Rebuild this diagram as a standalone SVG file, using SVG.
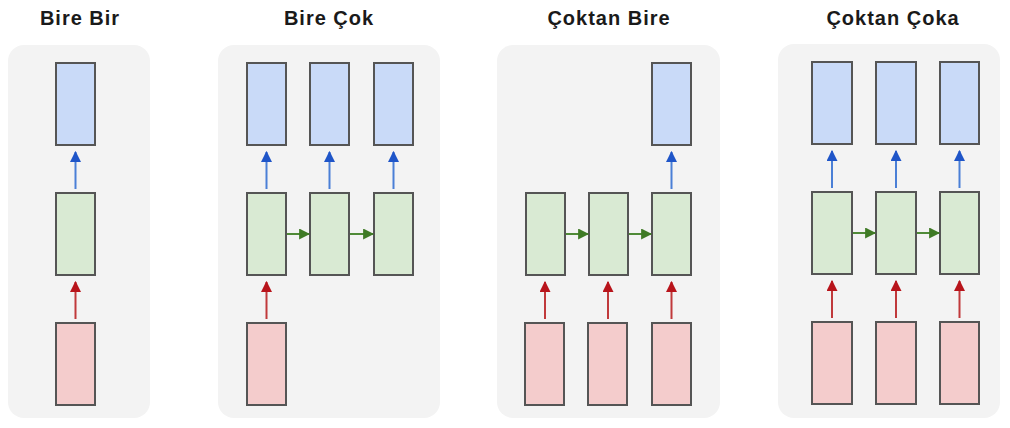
<svg xmlns="http://www.w3.org/2000/svg" width="1010" height="428" viewBox="0 0 1010 428">
  <defs>
    <style>
      .panel { fill: #f3f3f3; }
      .title { font-family: "Liberation Sans", Arial, sans-serif; font-weight: bold; font-size: 20px; fill: #1a1a1a; text-anchor: middle; letter-spacing: 1px; }
      .box { stroke: #555555; stroke-width: 2; }
      .out { fill: #c9daf8; }
      .hid { fill: #d9ead3; }
      .inp { fill: #f4cccc; }
      .up-b { stroke: #4a7fd6; stroke-width: 2; fill: none; marker-end: url(#headBlue); }
      .up-r { stroke: #c0393b; stroke-width: 2; fill: none; marker-end: url(#headRed); }
      .rt-g { stroke: #4f8a37; stroke-width: 2; fill: none; marker-end: url(#headGreen); }
    </style>
    <marker id="headBlue" viewBox="0 0 10 10" refX="9" refY="5" markerWidth="5.5" markerHeight="5.5" orient="auto" markerUnits="strokeWidth">
      <path d="M0,0 L10,5 L0,10 z" fill="#1f55c8"/>
    </marker>
    <marker id="headRed" viewBox="0 0 10 10" refX="9" refY="5" markerWidth="5.5" markerHeight="5.5" orient="auto" markerUnits="strokeWidth">
      <path d="M0,0 L10,5 L0,10 z" fill="#b8141b"/>
    </marker>
    <marker id="headGreen" viewBox="0 0 10 10" refX="9" refY="5" markerWidth="5.5" markerHeight="5.5" orient="auto" markerUnits="strokeWidth">
      <path d="M0,0 L10,5 L0,10 z" fill="#3f7a25"/>
    </marker>
  </defs>

  <!-- panel backgrounds -->
  <rect class="panel" x="8" y="45" width="142" height="373" rx="16"/>
  <rect class="panel" x="218" y="45" width="222" height="373" rx="16"/>
  <rect class="panel" x="497" y="45" width="223" height="373" rx="16"/>
  <rect class="panel" x="778" y="44" width="222" height="374" rx="16"/>

  <!-- titles -->
  <text class="title" x="80" y="25">Bire Bir</text>
  <text class="title" x="329" y="25">Bire Çok</text>
  <text class="title" x="609" y="25">Çoktan Bire</text>
  <text class="title" x="893" y="25">Çoktan Çoka</text>

  <!-- one to one -->
  <g id="one-to-one">
    <rect class="box out" x="56" y="63" width="39" height="82"/>
    <rect class="box hid" x="56" y="193" width="39" height="82"/>
    <rect class="box inp" x="56" y="323" width="39" height="82"/>
  </g>

  <!-- one to many -->
  <g id="one-to-many">
    <rect class="box out" x="247" y="63" width="39" height="82"/>
    <rect class="box out" x="310" y="63" width="39" height="82"/>
    <rect class="box out" x="374" y="63" width="39" height="82"/>
    <rect class="box hid" x="247" y="193" width="39" height="82"/>
    <rect class="box hid" x="310" y="193" width="39" height="82"/>
    <rect class="box hid" x="374" y="193" width="39" height="82"/>
    <rect class="box inp" x="247" y="323" width="39" height="82"/>
  </g>

  <!-- many to one -->
  <g id="many-to-one">
    <rect class="box out" x="652" y="63" width="39" height="82"/>
    <rect class="box hid" x="526" y="193" width="39" height="82"/>
    <rect class="box hid" x="589" y="193" width="39" height="82"/>
    <rect class="box hid" x="652" y="193" width="39" height="82"/>
    <rect class="box inp" x="525" y="323" width="39" height="82"/>
    <rect class="box inp" x="588" y="323" width="39" height="82"/>
    <rect class="box inp" x="652" y="323" width="39" height="82"/>
  </g>

  <!-- many to many -->
  <g id="many-to-many">
    <rect class="box out" x="812" y="62" width="40" height="82"/>
    <rect class="box out" x="876" y="62" width="40" height="82"/>
    <rect class="box out" x="940" y="62" width="39" height="82"/>
    <rect class="box hid" x="812" y="192" width="40" height="82"/>
    <rect class="box hid" x="876" y="192" width="40" height="82"/>
    <rect class="box hid" x="940" y="192" width="39" height="82"/>
    <rect class="box inp" x="812" y="322" width="40" height="82"/>
    <rect class="box inp" x="876" y="322" width="40" height="82"/>
    <rect class="box inp" x="940" y="322" width="39" height="82"/>
  </g>

  <!-- connectors -->
  <g id="connectors">
    <!-- one to one -->
    <line class="up-b" x1="75.5" y1="189" x2="75.5" y2="152"/>
    <line class="up-r" x1="75.5" y1="319" x2="75.5" y2="282"/>
    <!-- one to many -->
    <line class="up-b" x1="266.5" y1="189" x2="266.5" y2="152"/>
    <line class="up-b" x1="329.5" y1="189" x2="329.5" y2="152"/>
    <line class="up-b" x1="393.5" y1="189" x2="393.5" y2="152"/>
    <line class="up-r" x1="266.5" y1="319" x2="266.5" y2="282"/>
    <line class="rt-g" x1="287" y1="234" x2="309" y2="234"/>
    <line class="rt-g" x1="350" y1="234" x2="373" y2="234"/>
    <!-- many to one -->
    <line class="up-b" x1="671.5" y1="189" x2="671.5" y2="152"/>
    <line class="rt-g" x1="566" y1="234" x2="588" y2="234"/>
    <line class="rt-g" x1="629" y1="234" x2="651" y2="234"/>
    <line class="up-r" x1="545" y1="319" x2="545" y2="282"/>
    <line class="up-r" x1="608" y1="319" x2="608" y2="282"/>
    <line class="up-r" x1="671.5" y1="319" x2="671.5" y2="282"/>
    <!-- many to many -->
    <line class="up-b" x1="832" y1="188" x2="832" y2="151"/>
    <line class="up-b" x1="896" y1="188" x2="896" y2="151"/>
    <line class="up-b" x1="959.5" y1="188" x2="959.5" y2="151"/>
    <line class="rt-g" x1="853" y1="233" x2="875" y2="233"/>
    <line class="rt-g" x1="917" y1="233" x2="939" y2="233"/>
    <line class="up-r" x1="832" y1="318" x2="832" y2="281"/>
    <line class="up-r" x1="896" y1="318" x2="896" y2="281"/>
    <line class="up-r" x1="959.5" y1="318" x2="959.5" y2="281"/>
  </g>
</svg>
